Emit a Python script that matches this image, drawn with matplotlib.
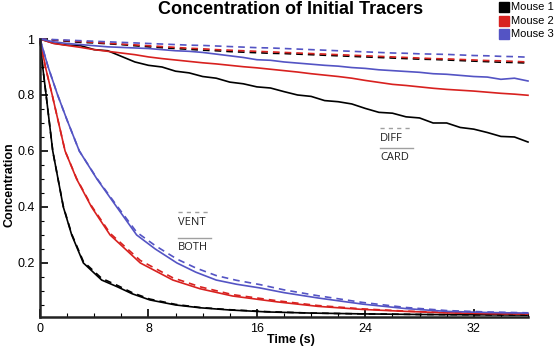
import numpy as np
import matplotlib
matplotlib.use("Agg")
import matplotlib.pyplot as plt
from matplotlib.ticker import MultipleLocator, FixedLocator

# --- datos ---
# curvas lentas (DIFF = discontinua, CARD = continua)
t_lento = [0, 1, 2, 3, 4, 5, 6, 7, 8, 9, 10, 11, 12, 13, 14, 15, 16, 17, 18,
           19, 20, 21, 22, 23, 24, 25, 26, 27, 28, 29, 30, 31, 32, 33, 34, 35, 36]
card_m1 = [1.0, 0.985, 0.978, 0.976, 0.962, 0.958, 0.938, 0.918, 0.906, 0.900,
           0.885, 0.879, 0.866, 0.860, 0.846, 0.840, 0.829, 0.825, 0.812, 0.800,
           0.795, 0.780, 0.776, 0.768, 0.752, 0.738, 0.735, 0.722, 0.718, 0.700,
           0.700, 0.684, 0.678, 0.666, 0.652, 0.650, 0.632]
card_m2 = [1.0, 0.984, 0.977, 0.970, 0.962, 0.956, 0.950, 0.944, 0.936, 0.930,
           0.925, 0.920, 0.915, 0.911, 0.906, 0.901, 0.897, 0.892, 0.887, 0.882,
           0.876, 0.871, 0.866, 0.860, 0.852, 0.845, 0.838, 0.834, 0.829, 0.824,
           0.820, 0.817, 0.814, 0.810, 0.806, 0.803, 0.799]
card_m3 = [1.0, 0.990, 0.984, 0.980, 0.976, 0.972, 0.970, 0.968, 0.966, 0.962,
           0.958, 0.956, 0.952, 0.946, 0.940, 0.934, 0.926, 0.924, 0.918, 0.914,
           0.910, 0.906, 0.903, 0.898, 0.895, 0.890, 0.887, 0.884, 0.881, 0.876,
           0.874, 0.870, 0.866, 0.864, 0.856, 0.860, 0.850]
diff_m1 = [1.0, 0.996, 0.992, 0.988, 0.986, 0.983, 0.980, 0.976, 0.972, 0.969,
           0.966, 0.963, 0.960, 0.958, 0.955, 0.953, 0.951, 0.949, 0.948, 0.946,
           0.944, 0.942, 0.940, 0.938, 0.936, 0.934, 0.932, 0.930, 0.928, 0.927,
           0.925, 0.923, 0.921, 0.919, 0.917, 0.916, 0.914]
diff_m2 = [1.0, 0.997, 0.994, 0.991, 0.988, 0.985, 0.982, 0.979, 0.976, 0.973,
           0.970, 0.967, 0.965, 0.962, 0.960, 0.958, 0.956, 0.954, 0.952, 0.950,
           0.948, 0.946, 0.944, 0.942, 0.940, 0.938, 0.936, 0.934, 0.932, 0.930,
           0.929, 0.927, 0.925, 0.923, 0.922, 0.920, 0.918]
diff_m3 = [1.0, 0.998, 0.996, 0.994, 0.992, 0.990, 0.988, 0.986, 0.984, 0.982,
           0.980, 0.978, 0.977, 0.975, 0.973, 0.971, 0.969, 0.968, 0.966, 0.964,
           0.962, 0.960, 0.958, 0.956, 0.954, 0.952, 0.950, 0.949, 0.947, 0.946,
           0.945, 0.943, 0.941, 0.940, 0.938, 0.937, 0.935]

# curvas rapidas (VENT = discontinua, BOTH = continua)
t_rapido_m1 = [0, 0.2, 0.45, 0.94, 1.33, 1.72, 2.34, 3.2, 4.55, 5.7, 6.8, 8.1,
               10, 11.8, 14, 16.8, 20, 24, 28, 32, 36]
both_m1 = [1.0, 0.9, 0.8, 0.6, 0.5, 0.4, 0.3, 0.2, 0.139, 0.115, 0.09, 0.068,
           0.05, 0.04, 0.032, 0.025, 0.021, 0.018, 0.016, 0.015, 0.014]
vent_m1 = [1.0, 0.9, 0.8, 0.6, 0.5, 0.402, 0.303, 0.205, 0.145, 0.12, 0.094,
           0.071, 0.052, 0.041, 0.033, 0.026, 0.021, 0.018, 0.016, 0.015, 0.014]

t_rapido_m2 = [0, 0.4, 0.9, 1.85, 2.7, 3.8, 5.17, 7.4, 9.8, 11.8, 14.2, 17.5,
               20.5, 23.8, 27, 30, 33, 36]
both_m2 = [1.0, 0.9, 0.8, 0.6, 0.5, 0.4, 0.3, 0.2, 0.139, 0.108, 0.082, 0.061,
           0.045, 0.034, 0.027, 0.022, 0.019, 0.018]
vent_m2 = [1.0, 0.9, 0.8, 0.6, 0.502, 0.404, 0.306, 0.209, 0.147, 0.115, 0.087,
           0.065, 0.048, 0.036, 0.028, 0.023, 0.020, 0.018]

t_rapido_m3 = [0, 0.6, 1.3, 2.0, 2.9, 4.2, 5.66, 7.13, 8.5, 10.1, 11.5, 13.0,
               14.5, 16.2, 18, 20.5, 23.8, 27, 30, 33, 36]
both_m3 = [1.0, 0.9, 0.8, 0.71, 0.6, 0.5, 0.4, 0.3, 0.25, 0.2, 0.167, 0.139,
           0.124, 0.111, 0.094, 0.075, 0.053, 0.037, 0.027, 0.023, 0.021]
vent_m3 = [1.0, 0.9, 0.8, 0.71, 0.6, 0.502, 0.405, 0.31, 0.262, 0.214, 0.182,
           0.155, 0.138, 0.123, 0.104, 0.083, 0.059, 0.041, 0.030, 0.025, 0.022]

colores = ['#000000', '#d8211f', '#5454c4']
ratones = ['Mouse 1', 'Mouse 2', 'Mouse 3']

fig = plt.figure(figsize=(5.58, 3.47), dpi=100)
ax = fig.add_axes([40 / 558, 1 - 317 / 347, 488 / 558, 278 / 347])

series = [
    (card_m1, diff_m1, t_rapido_m1, both_m1, vent_m1),
    (card_m2, diff_m2, t_rapido_m2, both_m2, vent_m2),
    (card_m3, diff_m3, t_rapido_m3, both_m3, vent_m3),
]
for c, (card, diff, t_r, both, vent) in zip(colores, series):
    ax.plot(t_lento, card, '-', color=c, lw=1.2, clip_on=False)
    ax.plot(t_lento, diff, '--', color=c, lw=1.2, dashes=(4, 3), clip_on=False)
    ax.plot(t_r, both, '-', color=c, lw=1.2, clip_on=False)
    ax.plot(t_r, vent, '--', color=c, lw=1.2, dashes=(4, 3), clip_on=False)

ax.set_xlim(0, 36)
ax.set_ylim(0.007, 1)
ax.xaxis.set_major_locator(FixedLocator([0, 8, 16, 24, 32]))
ax.xaxis.set_minor_locator(MultipleLocator(2))
ax.yaxis.set_major_locator(FixedLocator([0.2, 0.4, 0.6, 0.8, 1.0]))
ax.yaxis.set_minor_locator(MultipleLocator(0.05))
ax.set_xticklabels(['0', '8', '16', '24', '32'])
ax.set_yticklabels(['0.2', '0.4', '0.6', '0.8', '1'])
ax.tick_params(which='major', direction='in', length=6, width=1.2,
               labelsize=9, pad=4)
ax.tick_params(which='minor', direction='in', length=3, width=0.8)
for lab in ax.get_xticklabels() + ax.get_yticklabels():
    lab.set_family('Liberation Sans')

for s in ['top', 'right']:
    ax.spines[s].set_visible(False)
for s in ['left', 'bottom']:
    ax.spines[s].set_linewidth(1.8)
    ax.spines[s].set_color('#222222')

fig.text(291 / 558, 1 - 340 / 347, 'Time (s)', ha='center', va='center',
         fontsize=9, fontweight='bold', family='Liberation Sans')
fig.text(10 / 558, 1 - 185 / 347, 'Concentration', ha='center', va='center',
         rotation=90, fontsize=9, fontweight='bold', family='Liberation Sans')

fig.text(0.52, 1 - 10 / 347, 'Concentration of Initial Tracers', ha='center',
         va='center', fontsize=13, fontweight='bold', family='Liberation Sans')

# leyenda de ratones (arriba a la derecha)
for i, (c, nombre) in enumerate(zip(colores, ratones)):
    y = 1 - (7 + i * 13.5) / 347
    fig.patches.append(plt.Rectangle((499 / 558, y - 5 / 347), 10 / 558, 10 / 347,
                                     transform=fig.transFigure, color=c))
    fig.text(511 / 558, y, nombre, va='center', ha='left', fontsize=8,
             family='Liberation Sans')

# etiquetas de tipo de curva
gris = '#a0a0a0'
for x0, y_lin, y_txt, txt, estilo in [(25.1, 0.682, 0.646, 'DIFF', '--'),
                                      (25.1, 0.611, 0.575, 'CARD', '-'),
                                      (10.2, 0.383, 0.343, 'VENT', '--'),
                                      (10.2, 0.289, 0.254, 'BOTH', '-')]:
    ax.plot([x0, x0 + 2.4], [y_lin, y_lin], estilo, color=gris,
            lw=1.0, dashes=(3, 3) if estilo == '--' else (None, None))
    ax.text(x0, y_txt, txt, fontsize=8, family='Open Sans', va='center',
            ha='left', color='#222222')

fig.savefig('out.png', dpi=100)
